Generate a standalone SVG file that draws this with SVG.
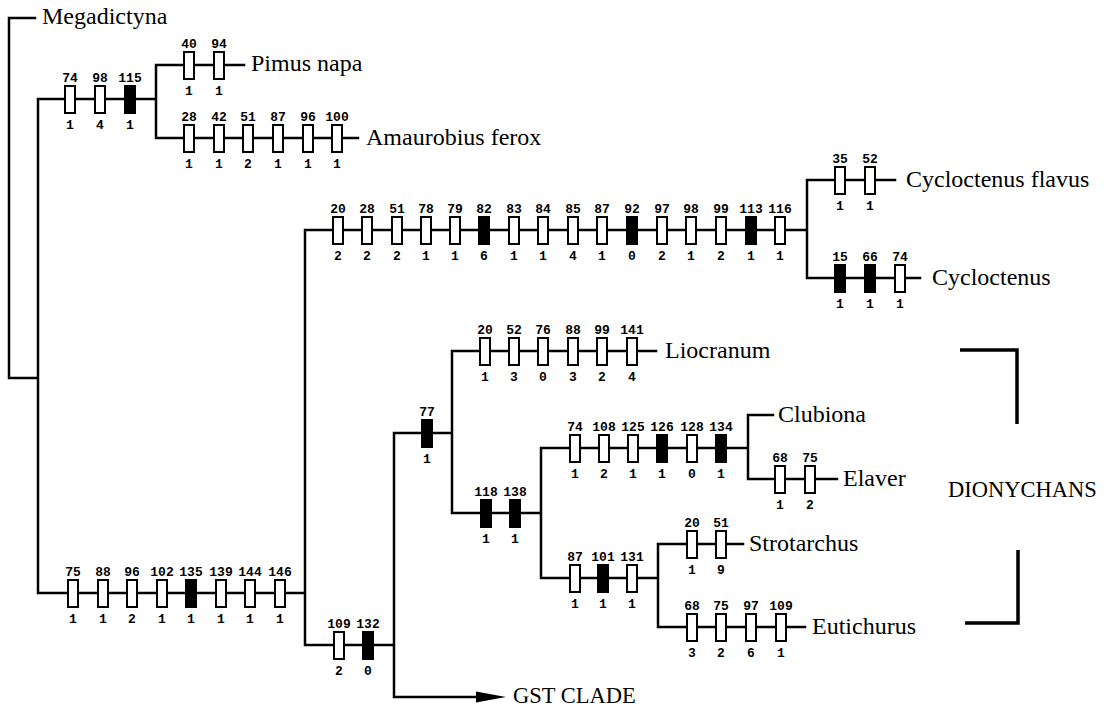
<svg xmlns="http://www.w3.org/2000/svg" xmlns:xlink="http://www.w3.org/1999/xlink" width="1116" height="706" viewBox="0 0 1116 706">
<style>
.br{fill:none;stroke:#000;stroke-width:2.5;stroke-linecap:square}
.bk{fill:none;stroke:#000;stroke-width:3.5}
.ob{fill:#fff;stroke:#000;stroke-width:2}
.fb{fill:#000;stroke:#000;stroke-width:2}
.n{font-family:"Liberation Mono","DejaVu Sans Mono",monospace;font-weight:bold;font-size:13px;text-anchor:middle;fill:#000}
.t{font-family:"Liberation Serif","DejaVu Serif",serif;font-size:24px;fill:#000}
.c{font-family:"Liberation Serif","DejaVu Serif",serif;font-size:22.5px;fill:#000}
</style>
<defs>
<rect id="o" class="ob" x="-5" y="-13" width="10" height="27"/>
<rect id="f" class="fb" x="-5" y="-13" width="10" height="27"/>
</defs>
<rect width="1116" height="706" fill="#fff"/>
<g id="connectors">
<path class="br" d="M9,18 H35 M9,18 V378 H38 M38,99 V593 M38,99 H156 M156,65 V138 M156,65 H244 M156,138 H358 M38,593 H305 M305,230 V645 M305,230 H807 M807,180 V278 M807,180 H895 M807,278 H920 M305,645 H394 M394,433 V697 H478 M394,433 H452 M452,351 V513 M452,351 H656 M452,513 H541 M541,448 V578 M541,448 H748 M748,415 V479 M748,415 H773 M748,479 H837 M541,578 H658 M658,544 V627 M658,544 H743 M658,627 H805"/>
<polygon points="476,691.5 506,697 476,702.5" fill="#000"/>
</g>
<g id="megadictyna"><text class="t" x="42" y="24">Megadictyna</text></g>
<g id="branch-amaurobioid">
<use xlink:href="#o" x="70" y="99"/><use xlink:href="#o" x="100" y="99"/><use xlink:href="#f" x="130" y="99"/>
<text class="n" x="70" y="82">74</text><text class="n" x="100" y="82">98</text><text class="n" x="130" y="82">115</text>
<text class="n" x="70" y="129">1</text><text class="n" x="100" y="129">4</text><text class="n" x="130" y="129">1</text>
</g>
<g id="pimus">
<use xlink:href="#o" x="189" y="65"/><use xlink:href="#o" x="219" y="65"/>
<text class="n" x="189" y="48">40</text><text class="n" x="219" y="48">94</text>
<text class="n" x="189" y="95">1</text><text class="n" x="219" y="95">1</text>
<text class="t" x="251" y="71">Pimus napa</text>
</g>
<g id="amaurobius">
<use xlink:href="#o" x="189" y="138"/><use xlink:href="#o" x="219" y="138"/><use xlink:href="#o" x="248" y="138"/><use xlink:href="#o" x="278" y="138"/><use xlink:href="#o" x="308" y="138"/><use xlink:href="#o" x="337" y="138"/>
<text class="n" x="189" y="121">28</text><text class="n" x="219" y="121">42</text><text class="n" x="248" y="121">51</text><text class="n" x="278" y="121">87</text><text class="n" x="308" y="121">96</text><text class="n" x="337" y="121">100</text>
<text class="n" x="189" y="168">1</text><text class="n" x="219" y="168">1</text><text class="n" x="248" y="168">2</text><text class="n" x="278" y="168">1</text><text class="n" x="308" y="168">1</text><text class="n" x="337" y="168">1</text>
<text class="t" x="366" y="145">Amaurobius ferox</text>
</g>
<g id="branch-lower">
<use xlink:href="#o" x="73" y="593"/><use xlink:href="#o" x="103" y="593"/><use xlink:href="#o" x="132" y="593"/><use xlink:href="#o" x="162" y="593"/><use xlink:href="#f" x="191" y="593"/><use xlink:href="#o" x="221" y="593"/><use xlink:href="#o" x="250" y="593"/><use xlink:href="#o" x="280" y="593"/>
<text class="n" x="73" y="576">75</text><text class="n" x="103" y="576">88</text><text class="n" x="132" y="576">96</text><text class="n" x="162" y="576">102</text><text class="n" x="191" y="576">135</text><text class="n" x="221" y="576">139</text><text class="n" x="250" y="576">144</text><text class="n" x="280" y="576">146</text>
<text class="n" x="73" y="623">1</text><text class="n" x="103" y="623">1</text><text class="n" x="132" y="623">2</text><text class="n" x="162" y="623">1</text><text class="n" x="191" y="623">1</text><text class="n" x="221" y="623">1</text><text class="n" x="250" y="623">1</text><text class="n" x="280" y="623">1</text>
</g>
<g id="branch-cycloctenids">
<use xlink:href="#o" x="338" y="230"/><use xlink:href="#o" x="367" y="230"/><use xlink:href="#o" x="397" y="230"/><use xlink:href="#o" x="426" y="230"/><use xlink:href="#o" x="455" y="230"/><use xlink:href="#f" x="484" y="230"/><use xlink:href="#o" x="514" y="230"/><use xlink:href="#o" x="543" y="230"/><use xlink:href="#o" x="573" y="230"/><use xlink:href="#o" x="602" y="230"/><use xlink:href="#f" x="632" y="230"/><use xlink:href="#o" x="662" y="230"/><use xlink:href="#o" x="691" y="230"/><use xlink:href="#o" x="721" y="230"/><use xlink:href="#f" x="751" y="230"/><use xlink:href="#o" x="780" y="230"/>
<text class="n" x="338" y="213">20</text><text class="n" x="367" y="213">28</text><text class="n" x="397" y="213">51</text><text class="n" x="426" y="213">78</text><text class="n" x="455" y="213">79</text><text class="n" x="484" y="213">82</text><text class="n" x="514" y="213">83</text><text class="n" x="543" y="213">84</text><text class="n" x="573" y="213">85</text><text class="n" x="602" y="213">87</text><text class="n" x="632" y="213">92</text><text class="n" x="662" y="213">97</text><text class="n" x="691" y="213">98</text><text class="n" x="721" y="213">99</text><text class="n" x="751" y="213">113</text><text class="n" x="780" y="213">116</text>
<text class="n" x="338" y="260">2</text><text class="n" x="367" y="260">2</text><text class="n" x="397" y="260">2</text><text class="n" x="426" y="260">1</text><text class="n" x="455" y="260">1</text><text class="n" x="484" y="260">6</text><text class="n" x="514" y="260">1</text><text class="n" x="543" y="260">1</text><text class="n" x="573" y="260">4</text><text class="n" x="602" y="260">1</text><text class="n" x="632" y="260">0</text><text class="n" x="662" y="260">2</text><text class="n" x="691" y="260">1</text><text class="n" x="721" y="260">2</text><text class="n" x="751" y="260">1</text><text class="n" x="780" y="260">1</text>
</g>
<g id="cycloctenus-flavus">
<use xlink:href="#o" x="840" y="180"/><use xlink:href="#o" x="870" y="180"/>
<text class="n" x="840" y="163">35</text><text class="n" x="870" y="163">52</text>
<text class="n" x="840" y="210">1</text><text class="n" x="870" y="210">1</text>
<text class="t" x="906" y="187">Cycloctenus flavus</text>
</g>
<g id="cycloctenus">
<use xlink:href="#f" x="840" y="278"/><use xlink:href="#f" x="870" y="278"/><use xlink:href="#o" x="900" y="278"/>
<text class="n" x="840" y="261">15</text><text class="n" x="870" y="261">66</text><text class="n" x="900" y="261">74</text>
<text class="n" x="840" y="308">1</text><text class="n" x="870" y="308">1</text><text class="n" x="900" y="308">1</text>
<text class="t" x="932" y="285">Cycloctenus</text>
</g>
<g id="branch-109-132">
<use xlink:href="#o" x="339" y="645"/><use xlink:href="#f" x="368" y="645"/>
<text class="n" x="339" y="628">109</text><text class="n" x="368" y="628">132</text>
<text class="n" x="339" y="675">2</text><text class="n" x="368" y="675">0</text>
</g>
<g id="gst-clade"><text class="c" x="513" y="703">GST CLADE</text></g>
<g id="branch-77">
<use xlink:href="#f" x="427" y="433"/>
<text class="n" x="427" y="416">77</text><text class="n" x="427" y="463">1</text>
</g>
<g id="liocranum">
<use xlink:href="#o" x="485" y="351"/><use xlink:href="#o" x="514" y="351"/><use xlink:href="#o" x="543" y="351"/><use xlink:href="#o" x="573" y="351"/><use xlink:href="#o" x="602" y="351"/><use xlink:href="#o" x="632" y="351"/>
<text class="n" x="485" y="334">20</text><text class="n" x="514" y="334">52</text><text class="n" x="543" y="334">76</text><text class="n" x="573" y="334">88</text><text class="n" x="602" y="334">99</text><text class="n" x="632" y="334">141</text>
<text class="n" x="485" y="381">1</text><text class="n" x="514" y="381">3</text><text class="n" x="543" y="381">0</text><text class="n" x="573" y="381">3</text><text class="n" x="602" y="381">2</text><text class="n" x="632" y="381">4</text>
<text class="t" x="665" y="358">Liocranum</text>
</g>
<g id="branch-118-138">
<use xlink:href="#f" x="486" y="513"/><use xlink:href="#f" x="515" y="513"/>
<text class="n" x="486" y="496">118</text><text class="n" x="515" y="496">138</text>
<text class="n" x="486" y="543">1</text><text class="n" x="515" y="543">1</text>
</g>
<g id="branch-clubionids">
<use xlink:href="#o" x="575" y="448"/><use xlink:href="#o" x="604" y="448"/><use xlink:href="#o" x="633" y="448"/><use xlink:href="#f" x="662" y="448"/><use xlink:href="#o" x="692" y="448"/><use xlink:href="#f" x="721" y="448"/>
<text class="n" x="575" y="431">74</text><text class="n" x="604" y="431">108</text><text class="n" x="633" y="431">125</text><text class="n" x="662" y="431">126</text><text class="n" x="692" y="431">128</text><text class="n" x="721" y="431">134</text>
<text class="n" x="575" y="478">1</text><text class="n" x="604" y="478">2</text><text class="n" x="633" y="478">1</text><text class="n" x="662" y="478">1</text><text class="n" x="692" y="478">0</text><text class="n" x="721" y="478">1</text>
</g>
<g id="clubiona"><text class="t" x="778" y="422">Clubiona</text></g>
<g id="elaver">
<use xlink:href="#o" x="780" y="479"/><use xlink:href="#o" x="810" y="479"/>
<text class="n" x="780" y="462">68</text><text class="n" x="810" y="462">75</text>
<text class="n" x="780" y="509">1</text><text class="n" x="810" y="509">2</text>
<text class="t" x="843" y="486">Elaver</text>
</g>
<g id="branch-87-101-131">
<use xlink:href="#o" x="575" y="578"/><use xlink:href="#f" x="603" y="578"/><use xlink:href="#o" x="632" y="578"/>
<text class="n" x="575" y="561">87</text><text class="n" x="603" y="561">101</text><text class="n" x="632" y="561">131</text>
<text class="n" x="575" y="608">1</text><text class="n" x="603" y="608">1</text><text class="n" x="632" y="608">1</text>
</g>
<g id="strotarchus">
<use xlink:href="#o" x="692" y="544"/><use xlink:href="#o" x="721" y="544"/>
<text class="n" x="692" y="527">20</text><text class="n" x="721" y="527">51</text>
<text class="n" x="692" y="574">1</text><text class="n" x="721" y="574">9</text>
<text class="t" x="749" y="551">Strotarchus</text>
</g>
<g id="eutichurus">
<use xlink:href="#o" x="692" y="627"/><use xlink:href="#o" x="721" y="627"/><use xlink:href="#o" x="751" y="627"/><use xlink:href="#o" x="781" y="627"/>
<text class="n" x="692" y="610">68</text><text class="n" x="721" y="610">75</text><text class="n" x="751" y="610">97</text><text class="n" x="781" y="610">109</text>
<text class="n" x="692" y="657">3</text><text class="n" x="721" y="657">2</text><text class="n" x="751" y="657">6</text><text class="n" x="781" y="657">1</text>
<text class="t" x="812" y="634">Eutichurus</text>
</g>
<g id="dionychans">
<path class="bk" d="M960,350 H1017 V424 M1018,550 V623 H965"/>
<text class="c" x="948" y="497">DIONYCHANS</text>
</g>
</svg>
